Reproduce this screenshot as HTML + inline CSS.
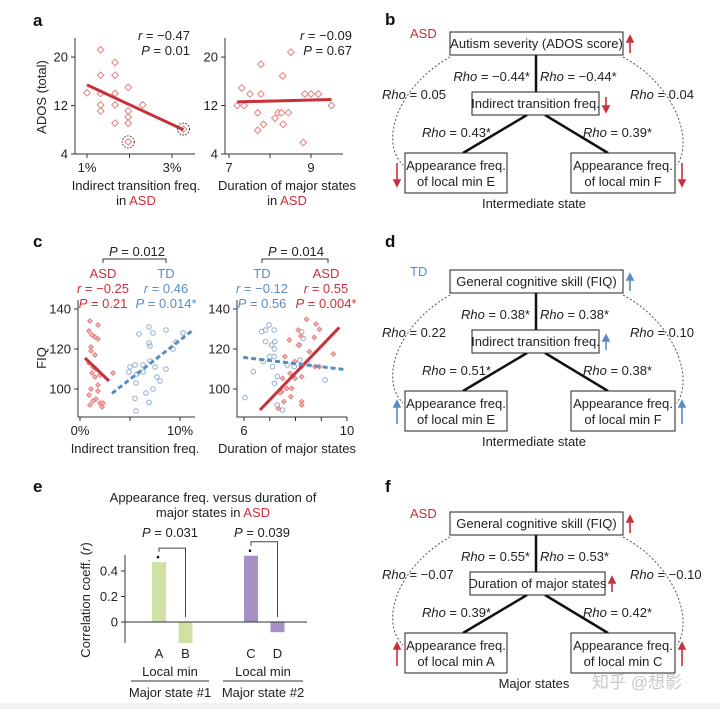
<!DOCTYPE html>
<html><head><meta charset="utf-8">
<style>
html,body{margin:0;padding:0;background:#fff;}
svg{display:block;font-family:"Liberation Sans",Arial,sans-serif;}
text{font-size:13px;fill:#222;}
.lbl{font-size:17px;font-weight:bold;fill:#111;}
.red{fill:#c8313a;}
.blue{fill:#5a8cc4;}
</style></head>
<body>
<svg id="fig" width="720" height="709" viewBox="0 0 720 709" xmlns="http://www.w3.org/2000/svg">
<rect x="0" y="0" width="720" height="709" fill="#fff"/>
<rect x="0" y="703" width="720" height="6" fill="#f2f2f2"/>
<text class="lbl" x="33" y="26">a</text>
<text class="lbl" x="385" y="25">b</text>
<text class="lbl" x="33" y="247">c</text>
<text class="lbl" x="385" y="247">d</text>
<text class="lbl" x="33" y="492">e</text>
<text class="lbl" x="385" y="492">f</text>

<text x="190" y="40" text-anchor="end"><tspan font-style="italic">r</tspan> = −0.47</text>
<text x="190" y="55" text-anchor="end"><tspan font-style="italic">P</tspan> = 0.01</text>
<text x="352" y="40" text-anchor="end"><tspan font-style="italic">r</tspan> = −0.09</text>
<text x="352" y="55" text-anchor="end"><tspan font-style="italic">P</tspan> = 0.67</text>
<text transform="translate(46,97) rotate(-90)" text-anchor="middle">ADOS (total)</text>
<text x="136" y="190" text-anchor="middle">Indirect transition freq.</text>
<text x="136" y="205" text-anchor="middle">in <tspan class="red">ASD</tspan></text>
<text x="287" y="190" text-anchor="middle">Duration of major states</text>
<text x="287" y="205" text-anchor="middle">in <tspan class="red">ASD</tspan></text>

<text x="137" y="256" text-anchor="middle"><tspan font-style="italic">P</tspan> = 0.012</text>
<path d="M103,263 V259 H166 V263" fill="none" stroke="#333" stroke-width="1"/>
<text x="103" y="278" text-anchor="middle" class="red">ASD</text>
<text x="103" y="293" text-anchor="middle" class="red"><tspan font-style="italic">r</tspan> = −0.25</text>
<text x="103" y="308" text-anchor="middle" class="red"><tspan font-style="italic">P</tspan> = 0.21</text>
<text x="166" y="278" text-anchor="middle" class="blue">TD</text>
<text x="166" y="293" text-anchor="middle" class="blue"><tspan font-style="italic">r</tspan> = 0.46</text>
<text x="166" y="308" text-anchor="middle" class="blue"><tspan font-style="italic">P</tspan> = 0.014*</text>
<text x="296" y="256" text-anchor="middle"><tspan font-style="italic">P</tspan> = 0.014</text>
<path d="M262,263 V259 H328 V263" fill="none" stroke="#333" stroke-width="1"/>
<text x="262" y="278" text-anchor="middle" class="blue">TD</text>
<text x="262" y="293" text-anchor="middle" class="blue"><tspan font-style="italic">r</tspan> = −0.12</text>
<text x="262" y="308" text-anchor="middle" class="blue"><tspan font-style="italic">P</tspan> = 0.56</text>
<text x="326" y="278" text-anchor="middle" class="red">ASD</text>
<text x="326" y="293" text-anchor="middle" class="red"><tspan font-style="italic">r</tspan> = 0.55</text>
<text x="326" y="308" text-anchor="middle" class="red"><tspan font-style="italic">P</tspan> = 0.004*</text>
<text transform="translate(46,358) rotate(-90)" text-anchor="middle">FIQ</text>
<text x="135" y="453" text-anchor="middle">Indirect transition freq.</text>
<text x="287" y="453" text-anchor="middle">Duration of major states</text>

<text x="213" y="502" text-anchor="middle">Appearance freq. versus duration of</text>
<text x="213" y="517" text-anchor="middle">major states in <tspan class="red">ASD</tspan></text>
<text x="170" y="537" text-anchor="middle"><tspan font-style="italic">P</tspan> = 0.031</text>
<text x="262" y="537" text-anchor="middle"><tspan font-style="italic">P</tspan> = 0.039</text>
<text transform="translate(90,600) rotate(-90)" text-anchor="middle">Correlation coeff. (<tspan font-style="italic">r</tspan>)</text>
<text x="170" y="676" text-anchor="middle">Local min</text>
<text x="263" y="676" text-anchor="middle">Local min</text>
<line x1="131" y1="681" x2="209" y2="681" stroke="#333"/>
<line x1="223" y1="681" x2="303" y2="681" stroke="#333"/>
<text x="170" y="697" text-anchor="middle">Major state #1</text>
<text x="263" y="697" text-anchor="middle">Major state #2</text>

<text x="592" y="688" style="font-family:'Liberation Sans','Noto Sans CJK SC',sans-serif;font-size:17px;fill:#bbb;opacity:0.8">知乎 @想影</text>
<g id="charts"></g>
<g id="diagrams"></g>
</svg>

<script>
const aLeftX = [1.0,1.32,1.32,1.32,1.32,1.32,1.66,1.66,1.66,1.66,1.66,1.97,1.97,1.97,1.97,1.97,2.31,3.27];
const aLeftY = [14.1,21.2,17.0,14.0,12.1,11.1,19.1,17.0,14.0,12.1,9.1,15.0,11.1,10.1,9.1,6.0,12.1,8.1];
const aLeftFit = [[1.0,15.4],[3.27,8.0]];
const aLeftCircled = [[1.97,6.0],[3.27,8.1]];
const aRightX = [7.2,7.37,7.31,7.51,7.70,7.78,7.84,7.78,7.70,8.12,8.20,8.28,8.31,8.31,8.45,8.32,8.51,8.81,8.85,9.0,9.18,9.5];
const aRightY = [12.0,12.0,14.9,13.9,10.8,13.9,8.9,18.8,7.9,9.9,10.8,10.8,16.9,16.9,10.8,8.9,20.8,5.9,13.9,13.9,13.9,12.0];
const aRightFit = [[7.2,12.6],[9.5,13.0]];
const aXTicksL = [1,2,3];
const aXTickLabelsL = ["1%","","3%"];
const aXTicksR = [7,8,9];
const aXTickLabelsR = ["7","","9"];
const aYTicks = [4,12,20];

const cLAsdX = [1.0,1.8,0.9,1.2,1.5,1.8,1.1,1.1,1.5,0.9,1.3,1.6,1.2,2.0,3.3,1.5,1.8,1.1,1.8,0.9,1.6,1.3,2.0,1.0,2.2,2.3];
const cLAsdY = [134,132,129,127,126,125,121,119,117,113,111,110,108,107,108,106,102,100,99,97,95,94,93,92,91,93];
const cLTdX = [5.9,6.9,7.3,8.6,10.3,9.6,6.9,7.0,9.3,5.0,4.9,5.5,5.7,6.3,6.3,7.0,7.5,7.7,8.0,5.6,6.6,6.9,7.3,5.5,8.6,5.6];
const cLTdY = [127.5,131,128,129.5,128,123.5,123,121.5,120,111,108.5,112,107.5,112,108.5,114,111,106,104,103,98,93.3,100,95.3,110,89];
const cLAsdFit = [[0.5,115.5],[2.9,104]];
const cLTdFit = [[3.2,97.8],[11.3,129.5]];
const cRTdX = [6.04,6.69,6.84,6.97,7.17,6.84,7.2,7.07,7.18,6.36,6.75,7.17,7.11,7.29,7.18,7.5,7.29,8.24,8.15,8.3,8.17,8.46,7.95,9.15,7.68,7.0];
const cRTdY = [95.7,128.7,129.5,132,129.5,123.7,123.7,122,120,108.7,113.7,116.2,111.2,106.2,102.8,89.5,92,128.7,122,125.3,114.5,112.8,111.2,104.5,112,116.2];
const cRAsdX = [8.43,8.8,8.93,8.11,8.21,8.73,7.76,8.11,8.54,7.59,7.98,8.24,8.76,8.93,9.47,7.79,7.98,7.5,8.24,7.66,7.85,7.46,7.55,8.24,8.24,7.33,7.4,7.82];
const cRAsdY = [134.8,132.5,129.8,129.5,126.5,125.8,124.5,122,118.7,116.2,113.7,111.2,111.2,111.2,117.5,107.8,105.3,105.3,106.2,100.3,100.3,98.7,93.7,93.7,92,90.3,98.2,96.2];
const cRAsdFit = [[6.62,89.5],[9.7,130.8]];
const cRTdFit = [[5.97,115.8],[9.86,109.8]];
const cYTicks = [100,120,140];
const cXTicksL = [0,5,10];
const cXTickLabelsL = ["0%","","10%"];
const cXTicksR = [6,7,8,9,10];
const cXTickLabelsR = ["6","","","","10"];

const eCats = ["A","B","C","D"];
const eVals = [0.47,-0.165,0.52,-0.08];
const eYTicks = [0,0.2,0.4];
const eYTickLabels = ["0","0.2","0.4"];
const eColors = ["#cfe2a4","#cfe2a4","#a690c5","#a690c5"];

const NS = "http://www.w3.org/2000/svg";
const charts = document.getElementById('charts');
function mk(tag, attrs, parent){
  const e = document.createElementNS(NS, tag);
  for (const k in attrs) e.setAttribute(k, attrs[k]);
  (parent||charts).appendChild(e);
  return e;
}
function txt(x,y,s,anchor){
  const t = mk('text',{x:x,y:y,'text-anchor':anchor||'middle'});
  t.textContent = s;
  return t;
}
function axes(x0,x1,yTop,yBot,name){
  const p = mk('path',{d:`M${x0},${yTop} V${yBot} H${x1}`,fill:'none',stroke:'#333','stroke-width':1});
  
  
}
function xTicks(ticks,labels,sx,yBot,name){
  ticks.forEach((v,i)=>{
    const l = mk('line',{x1:sx(v),x2:sx(v),y1:yBot,y2:yBot+4,stroke:'#333'});
    
    
    if (labels[i]) {
      const t = txt(sx(v),yBot+18,labels[i]);
      
      
    }
  });
}
function yTicks(ticks,labels,sy,x0,name){
  ticks.forEach((v,i)=>{
    const l = mk('line',{x1:x0-4,x2:x0,y1:sy(v),y2:sy(v),stroke:'#333'});
    
    
    if (labels) {
      const t = txt(x0-7,sy(v)+4.5,labels[i],'end');
      
      
    }
  });
}
function diamond(x,y,r,stroke,fill,name){
  const p = mk('path',{d:`M${x},${y-r} L${x+r},${y} L${x},${y+r} L${x-r},${y} Z`,fill:fill,stroke:stroke,'stroke-width':1});
  
  
}
function circ(x,y,r,stroke,name){
  const c = mk('circle',{cx:x,cy:y,r:r,fill:'none',stroke:stroke,'stroke-width':1});
  
  
}
function fit(pts,sx,sy,color,dash,w,name){
  const a = {x1:sx(pts[0][0]),y1:sy(pts[0][1]),x2:sx(pts[1][0]),y2:sy(pts[1][1]),stroke:color,'stroke-width':w};
  if (dash) a['stroke-dasharray']=dash;
  const l = mk('line',a);
  
  
}
const RED="#c8313a", PINK="#e58080", BLUE="#5a8cc4", LBLUE="#8fb0d4";

const aSy = v => 154 - (v-4)*6.06;
const aLx = v => 87 + (v-1)*42.5;
axes(75,195,38,154,'a-left-axes');
xTicks(aXTicksL,aXTickLabelsL,aLx,154,'a-left-x');
yTicks(aYTicks,aYTicks.map(String),aSy,75,'a-left-y');
aLeftX.forEach((x,i)=>diamond(aLx(x),aSy(aLeftY[i]),3.3,PINK,'#fff','a-left-point'));
fit(aLeftFit,aLx,aSy,RED,null,3,'a-left-fit-line');
aLeftCircled.forEach(p=>{
  const c = mk('circle',{cx:aLx(p[0]),cy:aSy(p[1]),r:6,fill:'none',stroke:'#333','stroke-dasharray':'1.5,1.5'});
  
  
});
const aRx = v => 229 + (v-7)*41;
axes(225,343,38,154,'a-right-axes');
xTicks(aXTicksR,aXTickLabelsR,aRx,154,'a-right-x');
yTicks(aYTicks,aYTicks.map(String),aSy,225,'a-right-y');
aRightX.forEach((x,i)=>diamond(aRx(x),aSy(aRightY[i]),3.3,PINK,'#fff','a-right-point'));
fit(aRightFit,aRx,aSy,RED,null,3,'a-right-fit-line');

const cSy = v => 309 + (140-v)*2;
const cLx = v => 80 + v*10;
axes(78,195,300,417,'c-left-axes');
xTicks(cXTicksL,cXTickLabelsL,cLx,417,'c-left-x');
yTicks(cYTicks,cYTicks.map(String),cSy,78,'c-left-y');
cLTdX.forEach((x,i)=>circ(cLx(x),cSy(cLTdY[i]),2.3,LBLUE,'c-left-td-point'));
cLAsdX.forEach((x,i)=>diamond(cLx(x),cSy(cLAsdY[i]),2.3,PINK,'#f2b9b9','c-left-asd-point'));
fit(cLAsdFit,cLx,cSy,RED,null,3,'c-left-asd-fit');
fit(cLTdFit,cLx,cSy,BLUE,'5,3',3,'c-left-td-fit');
const cRx = v => 244 + (v-6)*25.75;
axes(237,347,300,417,'c-right-axes');
xTicks(cXTicksR,cXTickLabelsR,cRx,417,'c-right-x');
yTicks(cYTicks,cYTicks.map(String),cSy,237,'c-right-y');
cRTdX.forEach((x,i)=>circ(cRx(x),cSy(cRTdY[i]),2.3,LBLUE,'c-right-td-point'));
cRAsdX.forEach((x,i)=>diamond(cRx(x),cSy(cRAsdY[i]),2.3,PINK,'#f2b9b9','c-right-asd-point'));
fit(cRAsdFit,cRx,cSy,RED,null,3,'c-right-asd-fit');
fit(cRTdFit,cRx,cSy,BLUE,'5,3',3,'c-right-td-fit');

const eSy = v => 622 - v*127.5;
const eX = i => 159 + i*26.5 + (i>=2?39:0);
const yAx = mk('line',{x1:125,x2:125,y1:555,y2:643,stroke:'#333'});


yTicks(eYTicks,eYTickLabels,eSy,125,'e-y');
eVals.forEach((v,i)=>{
  const r = mk('rect',{x:eX(i)-7,y:Math.min(eSy(v),eSy(0)),width:14,height:Math.abs(eSy(v)-eSy(0)),fill:eColors[i]});
  
  
  const t = txt(eX(i),658,eCats[i]);
  
  
});
const zl = mk('line',{x1:125,x2:307,y1:eSy(0),y2:eSy(0),stroke:'#333'});


[[0,1],[2,3]].forEach((p,k)=>{
  const top = Math.min(eSy(eVals[p[0]]),eSy(0)) - 14;
  const b = mk('path',{d:`M${eX(p[0])},${top+4} V${top} H${eX(p[1])} V${eSy(0)-5}`,fill:'none',stroke:'#444'});
  
  
  const d = mk('circle',{cx:eX(p[0])-1,cy:Math.min(eSy(eVals[p[0]]),eSy(0))-5,r:1.3,fill:'#111'});
  
  
});

const dg = document.getElementById('diagrams');
function dmk(tag, attrs, parent){
  const e = document.createElementNS(NS, tag);
  for (const k in attrs) e.setAttribute(k, attrs[k]);
  parent.appendChild(e);
  return e;
}
function arrow(g,x,y1,y2,color){
  const dir = y2<y1?1:-1;
  const a = dmk('path',{d:`M${x},${y1} V${y2+dir*5} M${x-3},${y2+dir*6} L${x},${y2} L${x+3},${y2+dir*6} Z`,stroke:color,'stroke-width':1.6,fill:color},g);
  
  
}
function rtext(g,x,y,val,anchor){
  const t = dmk('text',{x:x,y:y,'text-anchor':anchor},g);
  t.innerHTML = '<tspan font-style="italic">Rho</tspan> = '+val;
  
  
}
function box(g,x1,y1,x2,y2,lines,name){
  const r = dmk('rect',{x:x1,y:y1,width:x2-x1,height:y2-y1,fill:'#fff',stroke:'#222','stroke-width':1},g);
  
  
  const cx=(x1+x2)/2;
  lines.forEach((s,i)=>{
    const t = dmk('text',{x:cx,y:lines.length==1?(y1+y2)/2+4.5:y1+17+i*16,'text-anchor':'middle'},g);
    t.textContent = s;
    
    
  });
}
function diagram(dy,group,gcls,color,top,mid,midX2,bl,br,caption,rv,up){
  const g = dmk('g',{transform:`translate(0,${dy})`},dg);
  
  
  const gt = dmk('text',{x:410,y:38,class:gcls},g);
  gt.textContent = group;
  
  
  const c1 = dmk('path',{d:'M450,57 C400,85 378,140 403,165',fill:'none',stroke:'#555','stroke-dasharray':'2,2'},g);
  
  
  const c2 = dmk('path',{d:'M623,57 C675,85 694,140 677,165',fill:'none',stroke:'#555','stroke-dasharray':'2,2'},g);
  
  
  const l = dmk('path',{d:'M536,55 V92 M527,115 L463,153 M545,115 L608,153',stroke:'#111','stroke-width':2.5,fill:'none'},g);
  
  
  box(g,450,32,623,55,[top],'top-box');
  box(g,midX2[0],92,midX2[1],115,[mid],'middle-box');
  box(g,405,153,507,193,bl,'bottom-left-box');
  box(g,571,153,675,193,br,'bottom-right-box');
  rtext(g,530,81,rv[0],'end'); rtext(g,540,81,rv[1],'start');
  rtext(g,382,99,rv[2],'start'); rtext(g,630,99,rv[3],'start');
  rtext(g,491,137,rv[4],'end'); rtext(g,583,137,rv[5],'start');
  const cp = dmk('text',{x:534,y:208,'text-anchor':'middle'},g);
  cp.textContent = caption;
  
  
  const d = (x,ya,yb,u)=> u?arrow(g,x,yb,ya,color):arrow(g,x,ya,yb,color);
  d(630,36,53,up[0]);
  d(midX2[1]+7,97,112,up[1]);
  d(397,163,186,up[2]);
  d(682,163,186,up[2]);
}
diagram(0,'ASD','red',RED,'Autism severity (ADOS score)','Indirect transition freq.',[472,599],
  ['Appearance freq.','of local min E'],['Appearance freq.','of local min F'],'Intermediate state',
  ['−0.44*','−0.44*','0.05','0.04','0.43*','0.39*'],[true,false,false]);
diagram(238,'TD','blue',BLUE,'General cognitive skill (FIQ)','Indirect transition freq.',[472,599],
  ['Appearance freq.','of local min E'],['Appearance freq.','of local min F'],'Intermediate state',
  ['0.38*','0.38*','0.22','0.10','0.51*','0.38*'],[true,true,true]);
diagram(480,'ASD','red',RED,'General cognitive skill (FIQ)','Duration of major states',[470,605],
  ['Appearance freq.','of local min A'],['Appearance freq.','of local min C'],'Major states',
  ['0.55*','0.53*','−0.07','−0.10','0.39*','0.42*'],[true,true,true]);
</script>
</body></html>
